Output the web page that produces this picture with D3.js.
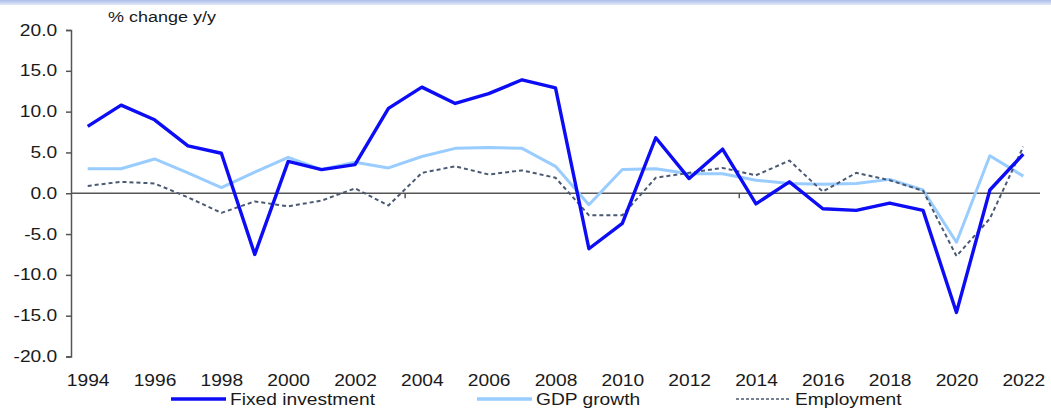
<!DOCTYPE html>
<html>
<head>
<meta charset="utf-8">
<script src="https://cdn.jsdelivr.net/npm/d3@7/dist/d3.min.js"></script>
<style>
  html, body { margin: 0; padding: 0; background: #fff; }
  svg { display: block; font-family: "Liberation Sans", Arial, sans-serif; }
</style>
</head>
<body>
<svg id="chart" width="1051" height="413"></svg>
<script>
// Annual data, % change y/y
const years = d3.range(1994, 2023);
const fixedInvestment = [8.2, 10.8, 9.0, 5.8, 4.9, -7.5, 3.9, 2.9, 3.5, 10.4, 13.0, 11.0, 12.2, 13.9, 12.9,
  -6.8, -3.7, 6.8, 1.8, 5.4, -1.3, 1.4, -1.9, -2.1, -1.2, -2.1, -14.6, 0.4, 4.8];
const gdpGrowth = [3.0, 3.0, 4.2, 2.5, 0.7, 2.6, 4.4, 2.9, 3.8, 3.1, 4.5, 5.5, 5.6, 5.5, 3.3,
  -1.4, 2.9, 3.0, 2.4, 2.4, 1.6, 1.2, 1.1, 1.2, 1.7, 0.4, -6.0, 4.6, 2.1];
const employment = [0.9, 1.4, 1.2, -0.5, -2.4, -1.0, -1.6, -0.9, 0.6, -1.5, 2.5, 3.3, 2.3, 2.8, 1.9,
  -2.7, -2.7, 1.9, 2.5, 3.1, 2.2, 4.0, 0.2, 2.5, 1.6, 0.3, -7.7, -3.1, 5.7];
const yTicks = [20, 15, 10, 5, 0, -5, -10, -15, -20];
const xLabelYears = years.filter(y => y % 2 === 0);

const seriesNames = ["Fixed investment", "GDP growth", "Employment"];
const seriesValues = [fixedInvestment, gdpGrowth, employment];
const seriesStyle = [
  { color: "#0c0cf5", width: 3.4, dash: null },
  { color: "#99ccff", width: 3.0, dash: null },
  { color: "#4a5a72", width: 2.0, dash: "4,3" }
];

const svg = d3.select("#chart");
const plotL = 71, plotR = 1040, plotT = 30, plotB = 356.5;
const stretch = 1.2;       // horizontal widening of all lettering
const textColor = "#1a1a1a";

const x = d3.scaleBand().domain(years).range([plotL, plotR]).padding(0);
const y = d3.scaleLinear().domain([-20, 20]).range([plotB, plotT]);
const cx = yr => x(yr) + x.bandwidth() / 2;

// place a widened text label with its anchor at (tx, ty)
function wideText(parent, tx, ty, str, size) {
  return parent.append("text")
    .attr("transform", `translate(${tx},${ty}) scale(${stretch},1)`)
    .attr("font-size", size).attr("fill", textColor).text(str);
}

// thin light band along the top edge
const grad = svg.append("defs").append("linearGradient").attr("id", "topband")
  .attr("x1", 0).attr("x2", 0).attr("y1", 0).attr("y2", 1);
grad.append("stop").attr("offset", "0%").attr("stop-color", "#a9bde8");
grad.append("stop").attr("offset", "100%").attr("stop-color", "#e3e9f8");
svg.append("rect").attr("x", 0).attr("y", 0).attr("width", 1051).attr("height", 5)
  .attr("fill", "url(#topband)");

// unit caption
wideText(svg, 108, 22, "% change y/y", 15);

// value axis
const fmt = v => d3.format(".1f")(v).replace("\u2212", "-");
const yAxis = svg.append("g").attr("transform", `translate(${plotL},0)`)
  .call(d3.axisLeft(y).tickValues(yTicks).tickFormat(fmt).tickSize(5).tickPadding(6.5));
yAxis.select(".domain").attr("stroke", "#555").attr("stroke-width", 1.5);
yAxis.selectAll(".tick line").attr("stroke", "#555").attr("stroke-width", 1.5);
yAxis.selectAll(".tick text").attr("font-size", 16).attr("fill", textColor)
  .attr("font-family", "Liberation Sans, Arial, sans-serif")
  .attr("transform", `scale(${stretch},1)`);

// category axis along zero
svg.append("line").attr("x1", plotL).attr("x2", plotR).attr("y1", y(0)).attr("y2", y(0))
  .attr("stroke", "#555").attr("stroke-width", 1.5);
const majorTicks = years.filter((yr, i) => i % 10 === 0 && i > 0);
svg.selectAll(".ztick").data(majorTicks).join("line").attr("class", "ztick")
  .attr("x1", d => x(d)).attr("x2", d => x(d))
  .attr("y1", y(0)).attr("y2", y(0) + 5)
  .attr("stroke", "#555").attr("stroke-width", 1.5);

// year labels under the plot
const xAxis = svg.append("g").attr("transform", `translate(0,${plotB + 18})`)
  .call(d3.axisBottom(d3.scalePoint().domain(years).range([cx(1994), cx(2022)]))
    .tickValues(xLabelYears).tickSize(0).tickPadding(0));
xAxis.select(".domain").remove();
xAxis.selectAll(".tick text").attr("font-size", 16).attr("fill", textColor)
  .attr("font-family", "Liberation Sans, Arial, sans-serif")
  .attr("transform", `scale(${stretch},1)`);

// series lines
const line = d3.line().x((d, i) => cx(years[i])).y(d => y(d));
const paths = seriesValues.map((vals, k) => {
  const st = seriesStyle[k];
  return svg.append("path").datum(vals)
    .attr("d", line)
    .attr("fill", "none")
    .attr("stroke", st.color)
    .attr("stroke-width", st.width)
    .attr("stroke-linejoin", "round")
    .attr("stroke-dasharray", st.dash);
});
// fixed investment drawn on top
paths[0].raise();

// legend
const legendX = [171, 477, 736];
const lg = svg.append("g");
seriesNames.forEach((name, k) => {
  const st = seriesStyle[k];
  lg.append("line").attr("x1", legendX[k]).attr("x2", legendX[k] + 55)
    .attr("y1", 399).attr("y2", 399)
    .attr("stroke", st.color).attr("stroke-width", k === 2 ? 1.5 : 3.5)
    .attr("stroke-dasharray", k === 2 ? "3,2" : null);
  wideText(lg, legendX[k] + 59, 405, name, 16);
});
</script>
</body>
</html>
